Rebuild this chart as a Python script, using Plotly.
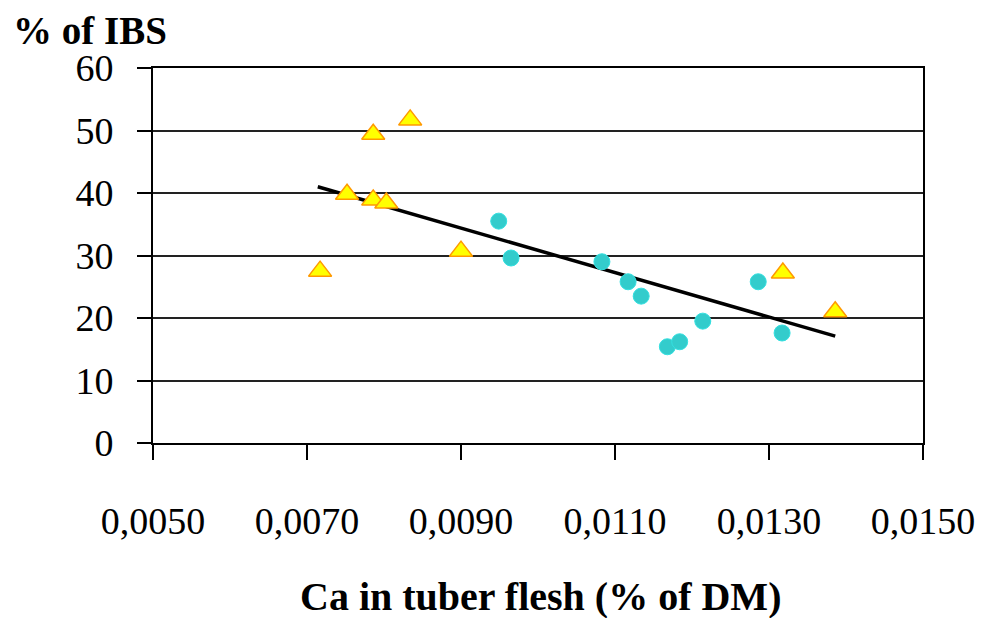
import plotly.graph_objects as go

# Series 1: triangles (yellow / orange outline)
tri_x = [0.00717, 0.00752, 0.00786, 0.00786, 0.00803, 0.00834, 0.00900, 0.01318, 0.01386]
tri_y = [27.5, 39.8, 49.4, 38.9, 38.4, 51.7, 30.7, 27.2, 21.0]

# Series 2: circles (cyan)
cir_x = [0.00949, 0.00965, 0.01083, 0.01117, 0.01134, 0.01168, 0.01184, 0.01214, 0.01286, 0.01317]
cir_y = [35.5, 29.6, 29.0, 25.8, 23.5, 15.4, 16.2, 19.5, 25.8, 17.6]

# Linear trendline (endpoints)
trend_x = [0.00714, 0.01386]
trend_y = [41.0, 17.1]

x_ticks = [0.005, 0.007, 0.009, 0.011, 0.013, 0.015]
y_ticks = [0, 10, 20, 30, 40, 50, 60]

FONT = "Liberation Serif"
OFF = 8  # default page body margin

fig = go.Figure()
fig.add_trace(go.Scatter(
    x=trend_x, y=trend_y, mode="lines",
    line=dict(color="black", width=3.5), hoverinfo="skip", showlegend=False))
fig.add_trace(go.Scatter(
    x=tri_x, y=tri_y, mode="markers", showlegend=False,
    marker=dict(symbol="triangle-up", size=20, color="#FFFF00",
                line=dict(color="#FF9900", width=1.5))))
fig.add_trace(go.Scatter(
    x=cir_x, y=cir_y, mode="markers", showlegend=False,
    marker=dict(symbol="circle", size=16, color="#33CCCC",
                line=dict(color="#33E0E0", width=1))))

fig.update_layout(
    width=992 - OFF, height=618 - OFF,
    margin=dict(l=153 - OFF, r=69, t=68 - OFF, b=175, autoexpand=False),
    paper_bgcolor="white", plot_bgcolor="white",
    separators=", ",
    font=dict(family=FONT, color="black", size=38),
    xaxis=dict(
        range=[0.005, 0.015], tickvals=x_ticks, tickformat=".4f",
        showgrid=False, zeroline=False,
        showline=True, linecolor="black", linewidth=2, mirror=True,
        ticks="outside", ticklen=15, tickwidth=2, tickcolor="black",
        ticklabelstandoff=28,
        tickfont=dict(family=FONT, size=38, color="black"),
    ),
    yaxis=dict(
        range=[0, 60], tickvals=y_ticks,
        showgrid=True, gridcolor="#222222", gridwidth=2,
        zeroline=False,
        showline=True, linecolor="black", linewidth=2, mirror=True,
        ticks="outside", ticklen=14, tickwidth=2, tickcolor="black",
        ticklabelstandoff=16,
        tickfont=dict(family=FONT, size=38, color="black"),
    ),
    annotations=[
        dict(text="<b>% of IBS</b>", xref="paper", yref="paper",
             x=(12 - 153) / 770, y=1 + (68 - 8) / 375, xanchor="left", yanchor="top",
             borderpad=0,
             showarrow=False, font=dict(family=FONT, size=39, color="black")),
        dict(text="<b>Ca in tuber flesh (% of DM)</b>", xref="paper", yref="paper",
             x=(540 - 153) / 770, y=-(596 - 443) / 375, xanchor="center", yanchor="middle",
             showarrow=False, font=dict(family=FONT, size=40, color="black")),
    ],
)

fig.write_html("out.html")
